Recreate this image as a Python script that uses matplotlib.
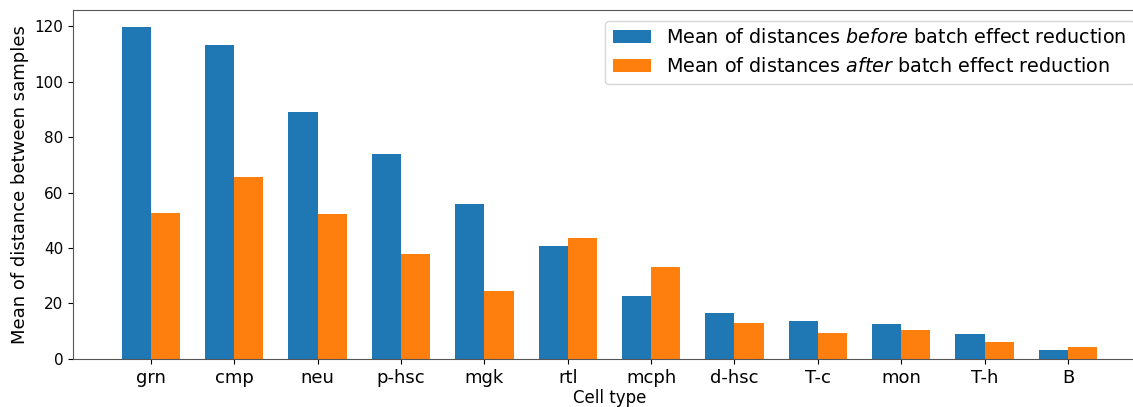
import matplotlib
matplotlib.use("Agg")
import matplotlib.pyplot as plt
import numpy as np

CELL_TYPES = ["grn", "cmp", "neu", "p-hsc", "mgk", "rtl", "mcph", "d-hsc", "T-c", "mon", "T-h", "B"]
MEAN_BEFORE = [119.8, 113.3, 89.0, 74.0, 56.0, 40.6, 22.6, 16.4, 13.7, 12.6, 9.1, 3.2]
MEAN_AFTER = [52.5, 65.6, 52.1, 38.0, 24.5, 43.6, 33.3, 12.9, 9.5, 10.6, 6.0, 4.3]

BAR_WIDTH = 0.35


def main() -> None:
    fig = plt.figure(figsize=(11.33, 4.07), dpi=100)
    # the original was cropped on the right, so the axes run past the edge
    ax = fig.add_axes([0.0644, 0.118, 0.947, 0.8574])

    x = np.arange(len(CELL_TYPES))
    ax.bar(x - BAR_WIDTH / 2, MEAN_BEFORE, BAR_WIDTH, color="#1f77b4",
           label="Mean of distances $\\it{before}$ batch effect reduction")
    ax.bar(x + BAR_WIDTH / 2, MEAN_AFTER, BAR_WIDTH, color="#ff7f0e",
           label="Mean of distances $\\it{after}$ batch effect reduction")

    ax.set_xticks(x)
    ax.set_xticklabels(CELL_TYPES, fontsize=13)
    ax.tick_params(axis="y", labelsize=11)
    ax.set_xlabel("Cell type", fontsize=12, labelpad=2)
    ax.set_ylabel("Mean of distance between samples", fontsize=13)
    ax.legend(loc="upper left", fontsize=13.8, borderaxespad=0,
              bbox_to_anchor=(605 / 1133, 1 - 20.7 / 407),
              bbox_transform=fig.transFigure)

    for side in ("left", "right", "top", "bottom"):
        ax.spines[side].set_color("#555555")

    fig.savefig("out.png", dpi=100)


if __name__ == "__main__":
    main()
